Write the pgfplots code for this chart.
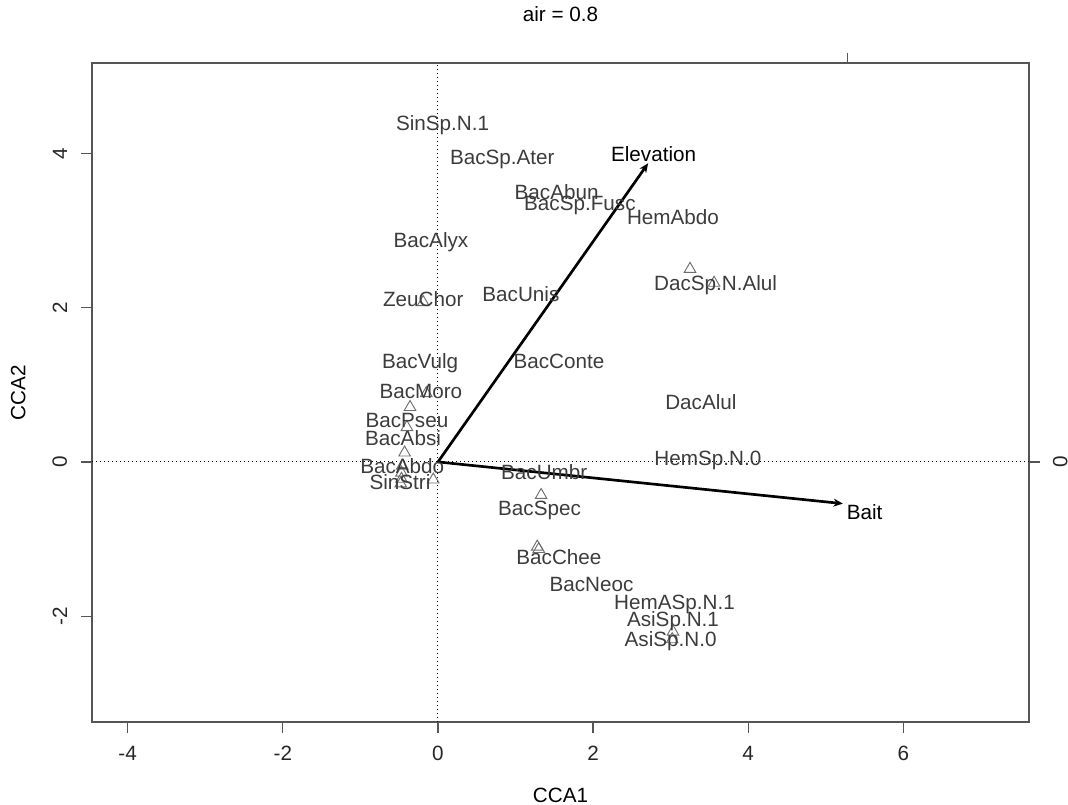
\documentclass[border=0pt]{standalone}
\usepackage{pgfplots}
\pgfplotsset{compat=1.18}
\usepackage{pgfplotstable}
\usepackage{fontspec}
\setmainfont{Liberation Sans}
\usetikzlibrary{arrows.meta}
\definecolor{boxgray}{HTML}{555555}
\definecolor{labgray}{HTML}{3C3C3C}
\definecolor{sitegray}{HTML}{6E6E6E}

% species scores (label centres)
\pgfplotstableread{
x y name
0.06 4.39 SinSp.N.1
0.83 3.95 BacSp.Ater
1.53 3.49 BacAbun
1.83 3.35 BacSp.Fusc
3.03 3.17 HemAbdo
-0.09 2.88 BacAlyx
-0.19 2.11 ZeuChor
1.07 2.17 BacUnis
3.58 2.32 DacSp.N.Alul
-0.23 1.31 BacVulg
1.56 1.31 BacConte
-0.22 0.92 BacMoro
3.39 0.78 DacAlul
-0.40 0.54 BacPseu
-0.45 0.31 BacAbsi
3.48 0.05 HemSp.N.0
-0.46 -0.06 BacAbdo
-0.49 -0.26 SinStri
1.37 -0.13 BacUmbr
1.31 -0.60 BacSpec
1.56 -1.23 BacChee
1.98 -1.59 BacNeoc
3.05 -1.82 HemASp.N.1
3.03 -2.04 AsiSp.N.1
3.00 -2.30 AsiSp.N.0
}\species

% site scores
\pgfplotstableread{
x y
-0.19 2.07
3.25 2.50
3.56 2.32
-0.15 0.89
-0.36 0.71
-0.40 0.45
-0.43 0.12
-0.46 -0.05
-0.47 -0.14
-0.47 -0.22
-0.48 -0.28
-0.06 -0.23
1.33 -0.43
1.28 -1.10
1.30 -1.13
3.03 -2.20
3.02 -2.30
}\sites

\begin{document}
\begin{tikzpicture}[font=\fontsize{15.5}{18}\selectfont]
\path[use as bounding box] (-69pt,-62.25pt) rectangle (732pt,541.5pt);
\begin{axis}[
  scale only axis, width=702.75pt, height=494.25pt,
  xmin=-4.46, xmax=7.62, ymin=-3.37, ymax=5.17,
  clip=false,
  axis line style={boxgray, line width=1pt},
  tick style={boxgray, line width=1pt},
  tick align=outside, major tick length=8pt,
  xtick pos=bottom, ytick pos=left,
  xtick={-4,-2,0,2,4,6}, xticklabels={-4,-2,0,2,4,6},
  ytick={-2,0,2,4}, yticklabels={-2,0,2,4},
  xticklabel style={anchor=north, inner sep=0pt, text=black!85},
  yticklabel style={rotate=90, anchor=south, inner sep=0pt, text=black!85},
  xticklabel shift=9.7pt, yticklabel shift=10.5pt,
  title={air = 0.8},
  title style={at={(axis description cs:0.5,1)}, anchor=base, yshift=25.2pt, inner sep=0pt},
  xlabel={CCA1},
  xlabel style={at={(axis description cs:0.5,0)}, anchor=base, yshift=-60.5pt, inner sep=0pt},
  ylabel={CCA2},
  ylabel style={at={([xshift=-50pt]axis description cs:0,0.5)}, anchor=base, inner sep=0pt},
]
% reference lines through the origin
\draw[black, line width=0.8pt, dash pattern=on 0.9pt off 2.1pt] (axis cs:-4.46,0) -- (axis cs:7.62,0);
\draw[black, line width=0.8pt, dash pattern=on 0.9pt off 2.1pt] (axis cs:0,-3.37) -- (axis cs:0,5.17);

% sites
\addplot[only marks, mark=triangle, mark size=5pt, mark options={sitegray, line width=0.7pt}] table[x=x, y=y] {\sites};

% species labels
\addplot[only marks, mark=none, nodes near coords, point meta=explicit symbolic,
  every node near coord/.append style={anchor=base, yshift=-5.5pt, inner sep=0pt, text=labgray}]
  table[x=x, y=y, meta=name] {\species};

% environmental arrows
\addplot[black, line width=2pt, -{Stealth[length=7pt, width=6pt]}] coordinates {(0,0) (2.71,3.87)};
\addplot[black, line width=2pt, -{Stealth[length=7pt, width=6pt]}] coordinates {(0,0) (5.22,-0.54)};
\node[anchor=base, yshift=-5.5pt, inner sep=0pt, text=black] at (axis cs:2.78,3.99) {Elevation};
\node[anchor=base, yshift=-5.5pt, inner sep=0pt, text=black] at (axis cs:5.50,-0.65) {Bait};

% biplot scale ticks on top and right
\draw[boxgray, line width=1pt] (axis cs:5.28,5.17) -- ([yshift=7.5pt]axis cs:5.28,5.17);
\draw[boxgray, line width=1pt] (axis cs:7.62,0) -- ([xshift=8pt]axis cs:7.62,0);
\node[rotate=90, anchor=north, inner sep=0pt, text=black!85] at ([xshift=17.8pt]axis cs:7.62,0) {0};
\end{axis}
\end{tikzpicture}
\end{document}
